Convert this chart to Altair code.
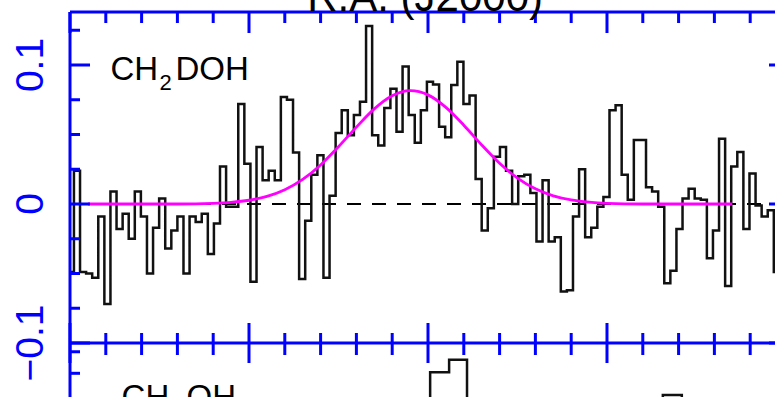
import altair as alt
import pandas as pd

# ---------------- data ----------------
# spectrum (CH2DOH), channel left edges start at V_START km/s, width DV km/s
V_START = -5.06
DV = 0.17
spec_values = [
    -0.049,
    0.024, -0.049, -0.050, -0.053, -0.009, -0.072, 0.009, -0.018, -0.007, -0.025,
    0.009, -0.009, -0.050, -0.017, 0.004, -0.032, -0.019, -0.009, -0.050, -0.009,
    -0.013, -0.007, -0.036, -0.014, 0.027, -0.002, -0.002, 0.072, 0.029, -0.056,
    0.041, 0.017, 0.024, 0.017, 0.077, 0.075, 0.037, -0.054, -0.012, 0.021,
    0.035, -0.053, 0.006, 0.051, 0.0675, 0.0495, 0.064, 0.0735, 0.128, 0.0495,
    0.042, 0.069, 0.083, 0.052, 0.099, 0.064, 0.044, 0.0675, 0.088, 0.086,
    0.0555, 0.048, 0.0856, 0.1024, 0.072, 0.078, 0.018, -0.019, -0.003, 0.034,
    0.041, 0.024, 0.0, 0.020, 0.021, 0.008, -0.027, 0.017, -0.027, -0.024,
    -0.063, -0.062, -0.009, 0.025, -0.024, -0.017, -0.002, 0.005, 0.0675, 0.071,
    0.021, 0.003, 0.046, 0.046, 0.012, 0.009, -0.002, -0.057, -0.048, -0.018,
    0.004, 0.011, 0.004, 0.003, -0.039, -0.019, 0.047, -0.059, 0.027, 0.0375,
    -0.018, 0.022, -0.001, -0.009, -0.0045, -0.049,
]

# Gaussian fit (magenta), read at these velocities
fit_v = [-4.5, -3, -2, -1, -0.5, 0, 0.5, 1, 1.5, 2, 2.5, 3, 3.5, 4, 4.5, 5,
         5.5, 6, 6.5, 7, 7.5, 8, 8.5, 9, 9.5, 10, 11, 12, 13.5]
fit_t = [0.0, 0.0, 0.0, 0.0005, 0.0012, 0.0027, 0.0055, 0.0103, 0.0177, 0.0281,
         0.0412, 0.0553, 0.0684, 0.0778, 0.0815, 0.0785, 0.0695, 0.0567, 0.0425,
         0.0293, 0.0186, 0.0109, 0.0059, 0.0029, 0.0013, 0.0005, 0.0, 0.0, 0.0]

# fragments of the panel below (CH3OH), visible at the bottom edge
lower_seg = [1, 1, 1, 1, 2, 2, 2]
lower_v = [4.89, 5.06, 5.59, 6.09, 11.39, 11.56, 12.09]
lower_t = [-0.16, -0.121, -0.112, -0.16, -0.16, -0.1375, -0.16]

# axes
x_major = [-5, 0, 5, 10, 15]
x_minor = [-4, -3, -2, -1, 1, 2, 3, 4, 6, 7, 8, 9, 11, 12, 13, 14]
y_major = [-0.1, 0.0, 0.1]
y_minor = [-0.075, -0.05, -0.025, 0.025, 0.05, 0.075, 0.125]
y_minor_lower = [-0.1063, -0.1218]
y_labels = ["−0.1", "0", "0.1"]

# texts
species_main = ["CH", "CH"]
species_sub = ["2", "3"]
species_rest = ["DOH", "OH"]
species_v = [-3.87, -3.56]
species_t = [0.0892, -0.1465]
title_text = ["R.A. (J2000)"]
title_v = [4.92]
title_t = [0.1389]

# ---------------- chart ----------------
W, H = 705, 385
XD = [-5, 14.693]
YD = [-0.13885, 0.13813]
BLUE = "#0000ff"
FONT = "Liberation Sans"


def X(f):
    return alt.X(f, type="quantitative", scale=alt.Scale(domain=XD, nice=False, zero=False), axis=None)


def Y(f):
    return alt.Y(f, type="quantitative", scale=alt.Scale(domain=YD, nice=False, zero=False), axis=None)


spec_df = pd.DataFrame({
    "v": [V_START + i * DV for i in range(len(spec_values) + 1)],
    "t": spec_values + [spec_values[-1]],
})
fit_df = pd.DataFrame({"v": fit_v, "t": fit_t})
lower_df = pd.DataFrame({"seg": lower_seg, "v": lower_v, "t": lower_t})
xmaj_df = pd.DataFrame({"v": x_major})
xmin_df = pd.DataFrame({"v": x_minor})
ymaj_df = pd.DataFrame({"t": y_major, "lab": y_labels})
ymin_df = pd.DataFrame({"t": y_minor})
ymin_low_df = pd.DataFrame({"t": y_minor_lower})
zero_df = pd.DataFrame({"t": [0.0]})
mid_df = pd.DataFrame({"t": [-0.1]})
sp_df = pd.DataFrame({"v": species_v, "t": species_t, "main": species_main,
                      "sub": species_sub, "rest": species_rest})
title_df = pd.DataFrame({"v": title_v, "t": title_t, "txt": title_text})

zero_line = alt.Chart(zero_df).mark_rule(color="black", strokeWidth=1.8, strokeDash=[14, 11],
                                         strokeDashOffset=-2).encode(
    y=Y("t"), x=alt.value(0), x2=alt.value(W))

spectrum = alt.Chart(spec_df).mark_line(interpolate="step-after", color="#111111", strokeWidth=2.5,
                                         clip=True).encode(x=X("v"), y=Y("t"))

lower = alt.Chart(lower_df).mark_line(interpolate="step-after", color="#111111", strokeWidth=2.5,
                                      clip=True).encode(x=X("v"), y=Y("t"), detail="seg:N")

fit = alt.Chart(fit_df).mark_line(interpolate="monotone", color="#ff00ff", strokeWidth=2.8,
                                  clip=True).encode(x=X("v"), y=Y("t"))

# frame lines
left_axis = alt.Chart(zero_df).mark_rule(color=BLUE, strokeWidth=3).encode(
    x=alt.value(0), y=alt.value(0), y2=alt.value(H))
top_axis = alt.Chart(zero_df).mark_rule(color=BLUE, strokeWidth=3).encode(
    y=alt.value(0), x=alt.value(0), x2=alt.value(W))
mid_axis = alt.Chart(mid_df).mark_rule(color=BLUE, strokeWidth=3).encode(
    y=Y("t"), x=alt.value(0), x2=alt.value(W))

# ticks
top_major = alt.Chart(xmaj_df).mark_rule(color=BLUE, strokeWidth=3).encode(
    x=X("v"), y=alt.value(0), y2=alt.value(21))
top_minor = alt.Chart(xmin_df).mark_rule(color=BLUE, strokeWidth=3).encode(
    x=X("v"), y=alt.value(0), y2=alt.value(11))
mid_major = alt.Chart(xmaj_df).mark_rule(color=BLUE, strokeWidth=3).encode(
    x=X("v"), y=alt.value(311), y2=alt.value(351))
mid_minor = alt.Chart(xmin_df).mark_rule(color=BLUE, strokeWidth=3).encode(
    x=X("v"), y=alt.value(321), y2=alt.value(343))
left_major = alt.Chart(ymaj_df).mark_rule(color=BLUE, strokeWidth=3).encode(
    y=Y("t"), x=alt.value(0), x2=alt.value(20))
left_minor = alt.Chart(ymin_df).mark_rule(color=BLUE, strokeWidth=3).encode(
    y=Y("t"), x=alt.value(0), x2=alt.value(10))
left_minor_low = alt.Chart(ymin_low_df).mark_rule(color=BLUE, strokeWidth=3).encode(
    y=Y("t"), x=alt.value(0), x2=alt.value(10))
right_major = alt.Chart(ymaj_df).mark_rule(color=BLUE, strokeWidth=3).encode(
    y=Y("t"), x=alt.value(699), x2=alt.value(719))

ylab = alt.Chart(ymaj_df).mark_text(angle=270, align="center", baseline="alphabetic", fontSize=39,
                                    color=BLUE, font=FONT).encode(
    y=Y("t"), x=alt.value(-27), text="lab:N")

sp_main = alt.Chart(sp_df).mark_text(align="left", baseline="alphabetic", fontSize=33,
                                     color="black", font=FONT).encode(x=X("v"), y=Y("t"), text="main:N")
sp_sub = alt.Chart(sp_df).mark_text(align="left", baseline="alphabetic", fontSize=22, dx=49, dy=10,
                                    color="black", font=FONT).encode(x=X("v"), y=Y("t"), text="sub:N")
sp_rest = alt.Chart(sp_df).mark_text(align="left", baseline="alphabetic", fontSize=33, dx=65,
                                     color="black", font=FONT).encode(x=X("v"), y=Y("t"), text="rest:N")
title = alt.Chart(title_df).mark_text(align="center", baseline="alphabetic", fontSize=42,
                                      color="black", font=FONT).encode(x=X("v"), y=Y("t"), text="txt:N")

chart = alt.layer(
    zero_line, spectrum, lower, fit,
    left_axis, top_axis, mid_axis,
    top_major, top_minor, mid_major, mid_minor,
    left_major, left_minor, left_minor_low, right_major,
    ylab, sp_main, sp_sub, sp_rest, title,
).properties(
    width=W, height=H,
    autosize=alt.AutoSizeParams(type="none"),
    padding={"left": 70, "top": 12, "right": 0, "bottom": 0},
    background="white",
).configure_view(stroke=None)

chart.save("out.html", embed_options={"renderer": "svg", "actions": False})
